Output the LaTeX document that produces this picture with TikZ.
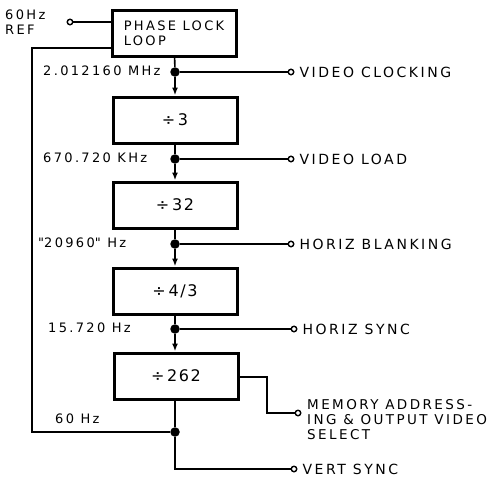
\documentclass[tikz,border=0pt]{standalone}
\usepackage{fontspec}
\setmainfont{DejaVu Sans}[LetterSpace=18]
\newfontfamily\divfont{DejaVu Sans}[LetterSpace=10]
\usetikzlibrary{positioning,arrows.meta}

\tikzset{
  blk/.style={draw,line width=3pt,minimum width=124pt,minimum height=46pt,font=\fontsize{13}{15}\selectfont},
  divblk/.style={blk,font=\divfont\fontsize{16}{17}\selectfont},
  jdot/.style={circle,fill,inner sep=0pt,minimum size=9.5pt},
  pin/.style={circle,draw,line width=1.4pt,fill=white,inner sep=0pt,minimum size=5.5pt},
  lbl/.style={font=\fontsize{13}{15}\selectfont,inner sep=0pt},
  olbl/.style={font=\fontsize{14}{15}\selectfont,inner sep=0pt},
  sig/.style={line width=1.6pt},
}

\begin{document}
\begin{tikzpicture}[x=1pt,y=-1pt]
\useasboundingbox (0,0) rectangle (489,479);

% divider chain
\node[blk,align=left] (pll) at (174,33) {PHASE LOCK\\LOOP};
\node[divblk] (div3) at (175,120) {÷\,3};
\node[divblk] (div32) at (175,205) {÷\,32};
\node[divblk] (div43) at (175,291) {÷\,4/3};
\node[divblk] (div262) at (176,376) {÷\,262};

% taps
\node[jdot] (ja) at (175,72) {};
\node[jdot] (jb) at (175,159) {};
\node[jdot] (jc) at (175,244) {};
\node[jdot] (jd) at (175,329) {};
\node[jdot] (je) at (175,432) {};

\node[pin] (pref) at (70,22) {};
\node[pin] (pa) at (291,72) {};
\node[pin] (pb) at (291,159) {};
\node[pin] (pc) at (291,244) {};
\node[pin] (pd) at (294,329) {};
\node[pin] (pe) at (298,413) {};
\node[pin] (pf) at (294,469) {};

\coordinate (fbtop) at (32,48);
\coordinate (fbbot) at (32,432);
\coordinate (mtop) at (267,377);
\coordinate (mbot) at (267,413);

% labels
\node[lbl,anchor=north west,align=left] (reflbl) at (5,10) {60Hz\\REF};
\node[lbl,anchor=west] (fa) at (43,71) {2.012160 MHz};
\node[lbl,anchor=west] (fb) at (43,158) {670.720 KHz};
\node[lbl,anchor=west] (fc) at (38,243) {\textquotedbl 20960\textquotedbl{} Hz};
\node[lbl,anchor=west] (fd) at (48,328) {15.720 Hz};
\node[lbl,anchor=west] (fe) at (55,419) {60 Hz};

\node[olbl,anchor=west,right=5pt of pa] (oa) {VIDEO CLOCKING};
\node[olbl,anchor=west,right=5pt of pb] (ob) {VIDEO LOAD};
\node[olbl,anchor=west,right=5pt of pc] (oc) {HORIZ BLANKING};
\node[olbl,anchor=west,right=5pt of pd] (od) {HORIZ SYNC};
\node[olbl,anchor=north west,align=left,font=\fontsize{13.5}{15}\selectfont] (oe) at (307,399) {MEMORY ADDRESS-\\ING \& OUTPUT VIDEO\\SELECT};
\node[olbl,anchor=west,right=5pt of pf] (of) {VERT SYNC};

% wiring
\draw[sig] (pref) -- (pref-|pll.west);
\draw[sig] (pll) -- (ja);
\draw[sig,-{Latex[length=8pt,width=6pt]}] (ja) -- (div3);
\draw[sig] (div3) -- (jb);
\draw[sig,-{Latex[length=8pt,width=6pt]}] (jb) -- (div32);
\draw[sig] (div32) -- (jc);
\draw[sig,-{Latex[length=8pt,width=6pt]}] (jc) -- (div43);
\draw[sig] (div43) -- (jd);
\draw[sig,-{Latex[length=8pt,width=6pt]}] (jd) -- (div262.north-|jd);
\draw[sig] (ja) -- (pa);
\draw[sig] (jb) -- (pb);
\draw[sig] (jc) -- (pc);
\draw[sig] (jd) -- (pd);
\draw[sig] (div262.east|-mtop) -- (mtop) -- (mbot) -- (pe);
\draw[sig] (div262.south-|je) -- (je) -- (je|-pf) -- (pf);
\draw[sig] (pll.west|-fbtop) -- (fbtop) -- (fbbot) -- (je);
\end{tikzpicture}
\end{document}
